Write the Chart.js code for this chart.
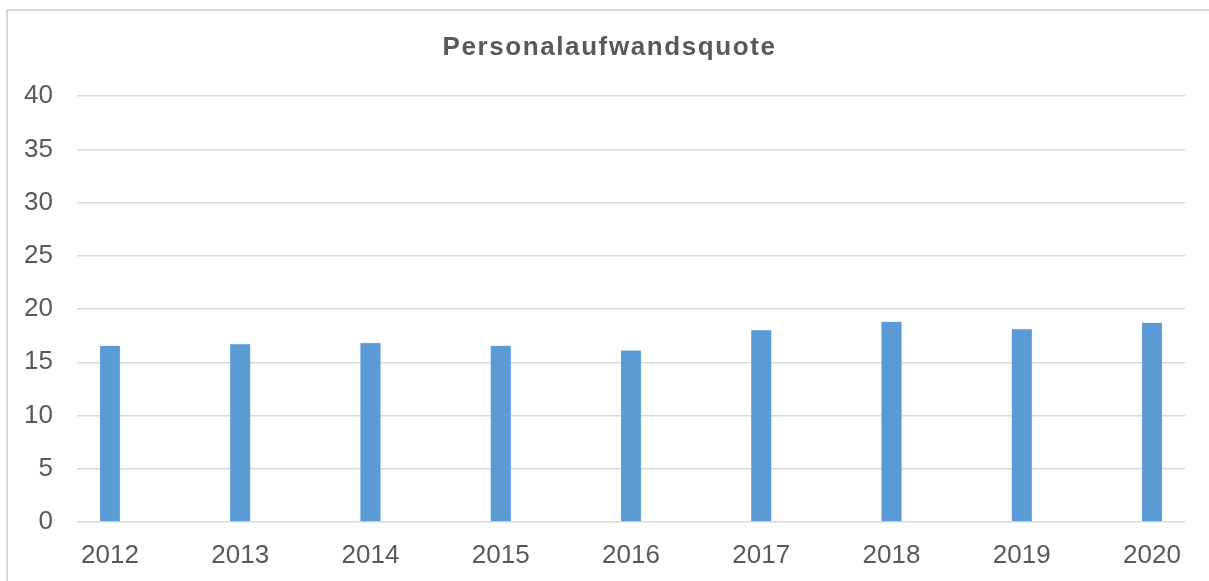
<!DOCTYPE html>
<html>
<head>
<meta charset="utf-8">
<script src="https://cdn.jsdelivr.net/npm/chart.js@4/dist/chart.umd.min.js"></script>
<style>
    html, body { margin: 0; padding: 0; background: #fff; }
    #frame {
        position: absolute; left: 6px; top: 9px; width: 1220px; height: 600px;
        border-left: 2px solid #d9d9d9; border-top: 2px solid #d9d9d9;
    }
    #wrap { position: absolute; left: 0; top: 0; width: 1209px; height: 581px; }
</style>
</head>
<body>
<div id="frame"></div>
<div id="wrap"><canvas id="chart" width="1209" height="581"></canvas></div>
<script>
const years = ['2012', '2013', '2014', '2015', '2016', '2017', '2018', '2019', '2020'];
const quote = [16.55, 16.7, 16.8, 16.55, 16.1, 18.0, 18.8, 18.1, 18.7];
const yTicks = [0, 5, 10, 15, 20, 25, 30, 35, 40];

const textColor = '#595959';
const gridColor = '#d9d9d9';

document.addEventListener('DOMContentLoaded', () => {
    const ctx = document.getElementById('chart').getContext('2d');
    const chart = new Chart(ctx, {
        type: 'bar',
        data: {
            datasets: [{
                label: 'Personalaufwandsquote',
                data: years.map((y, i) => ({ x: i, y: quote[i] })),
                backgroundColor: '#5b9bd5',
                borderColor: '#9dc3e6',
                borderWidth: 0.5,
                barThickness: 20
            }]
        },
        options: {
            responsive: false,
            animation: false,
            layout: { padding: { left: 0, right: 24, top: 0, bottom: 0 } },
            scales: {
                x: {
                    type: 'linear',
                    offset: false,
                    min: -0.253,
                    max: 8.253,
                    grid: { display: false },
                    border: { display: false },
                    ticks: {
                        stepSize: 1,
                        includeBounds: false,
                        maxRotation: 0,
                        autoSkip: false,
                        padding: 10,
                        color: textColor,
                        font: { family: 'Liberation Sans', size: 26 },
                        callback: (v) => Number.isInteger(v) ? years[v] : ''
                    },
                    afterFit: (scale) => { scale.height = 59; }
                },
                y: {
                    min: yTicks[0],
                    max: yTicks[yTicks.length - 1],
                    grid: { color: gridColor, lineWidth: 1.5, drawTicks: false },
                    border: { display: false },
                    afterBuildTicks: (scale) => { scale.ticks = yTicks.map(v => ({ value: v })); },
                    ticks: {
                        padding: 24,
                        color: textColor,
                        font: { family: 'Liberation Sans', size: 26 }
                    },
                    afterFit: (scale) => { scale.width = 77; }
                }
            },
            plugins: {
                legend: { display: false },
                tooltip: { enabled: false },
                title: {
                    display: true,
                    text: 'Personalaufwandsquote',
                    color: textColor,
                    font: { family: 'Liberation Sans', size: 26, weight: 'bold' },
                    padding: { top: 32, bottom: 33 }
                }
            }
        }
    });

    // the original title is set a little wider; canvas letter spacing pushes it left, so nudge it back
    const title = chart.titleBlock;
    const drawTitle = title.draw.bind(title);
    title.draw = (...args) => {
        const c = chart.ctx;
        c.save();
        c.letterSpacing = '1.6px';
        c.translate(17, 0);
        drawTitle(...args);
        c.restore();
    };
    chart.draw();
});
</script>
</body>
</html>
